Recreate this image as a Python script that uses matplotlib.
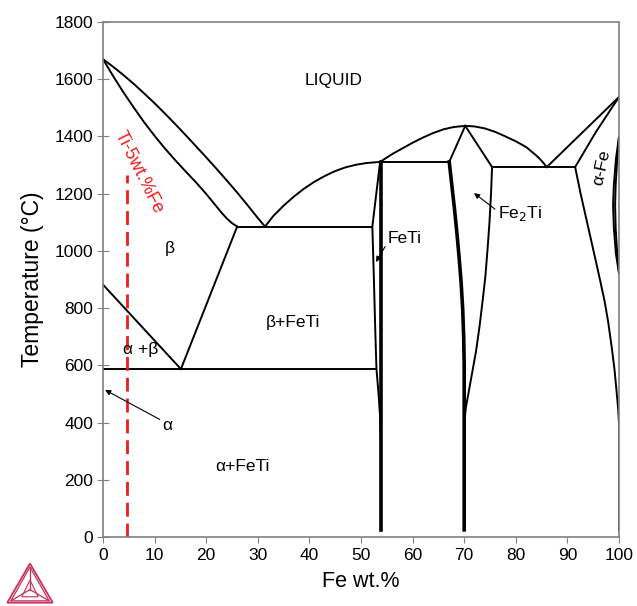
import matplotlib
matplotlib.use('Agg')
import matplotlib.pyplot as plt
from matplotlib.patches import Polygon

plt.rcParams['font.family'] = ['Liberation Sans', 'DejaVu Sans']

# phase boundaries, (Fe wt.%, T degC)
liq_left_x = [0, 2, 4, 6, 8, 10, 12, 14, 16, 18, 20, 22, 24, 26, 28, 30, 31.4]
liq_left_t = [1670, 1643, 1614, 1583, 1550, 1516, 1480, 1443, 1405, 1366, 1327, 1287, 1246, 1204, 1160, 1115, 1085]
sol_left_x = [0, 2, 4, 6, 8, 10, 12, 14, 16, 18, 20, 22, 23, 24, 25, 26]
sol_left_t = [1670, 1610, 1553, 1500, 1449, 1402, 1358, 1317, 1278, 1240, 1199, 1155, 1133, 1113, 1097, 1085]
liq_mid_x = [31.4, 33, 35, 37, 39, 41, 43, 45, 47, 49, 51, 53.7]
liq_mid_t = [1085, 1122, 1158, 1190, 1218, 1242, 1262, 1279, 1292, 1301, 1307, 1311]
liq_top_x = [53.7, 56, 58, 60, 62, 64, 66, 68, 70.2, 72, 74, 76, 78, 80, 82, 84, 85, 86.0]
liq_top_t = [1311, 1338, 1358, 1378, 1396, 1412, 1425, 1433, 1437, 1435, 1428, 1416, 1400, 1383, 1363, 1333, 1315, 1293]
liq_fe_x = [86.0, 100]
liq_fe_t = [1293, 1538]
sol_fe_x = [91.5, 95.5, 100]
sol_fe_t = [1293, 1415, 1538]
solvus_fe_x = [91.5, 92.5, 93.5, 94.5, 95.5, 96.4, 97.2, 97.9, 98.6, 99.15, 99.55, 99.85, 100, 100]
solvus_fe_t = [1293, 1205, 1125, 1045, 965, 892, 825, 752, 662, 582, 505, 445, 395, 25]
gamma_a_x = [100, 99.4, 99.0, 98.85, 99.0, 99.4, 100]
gamma_a_t = [1399, 1320, 1230, 1160, 1080, 990, 922]
gamma_b_x = [100, 99.65, 99.35, 99.25, 99.35, 99.65, 100]
gamma_b_t = [1399, 1320, 1230, 1160, 1080, 990, 922]
transus_x = [0, 15.1]
transus_t = [882, 587]
beta_feti_x = [15.1, 26]
beta_feti_t = [587, 1085]
eut_x = [26, 52.2]
eut_t = [1085, 1085]
eutectoid_x = [0, 53.0]
eutectoid_t = [587, 587]
feti_left_x = [53.7, 52.2, 52.5, 52.8, 53.0, 53.4, 53.7, 53.8]
feti_left_t = [1311, 1085, 900, 700, 587, 500, 420, 350]
feti_right_x = [53.8, 53.8]
feti_right_t = [1311, 25]
peri_x = [53.7, 67.1]
peri_t = [1311, 1311]
fe2ti_top_x = [70.2, 67.1]
fe2ti_top_t = [1437, 1311]
fe2ti_left_x = [67.1, 67.6, 68.1, 68.6, 69.0, 69.4, 69.7, 69.9, 70.0, 70.0]
fe2ti_left_t = [1311, 1230, 1150, 1060, 980, 890, 800, 700, 600, 25]
fe2ti_right_x = [70.2, 75.4, 75.2, 74.9, 74.5, 74.1, 73.6, 73.0, 72.3, 71.5, 70.8, 70.3, 70.05]
fe2ti_right_t = [1437, 1293, 1200, 1100, 1000, 910, 830, 740, 650, 570, 500, 450, 400]
eut2_x = [75.4, 91.5]
eut2_t = [1293, 1293]
alloy_x = [4.7, 4.7]
alloy_t = [0, 1265]

fig = plt.figure(figsize=(6.37, 6.06), dpi=100)
ax = fig.add_axes([103 / 637, 69 / 606, 516 / 637, 515 / 606])

thin = dict(color='black', lw=1.4, solid_joinstyle='round')
thick = dict(color='black', lw=2.6, solid_joinstyle='round')
for xs, ts in [(liq_left_x, liq_left_t), (sol_left_x, sol_left_t), (liq_mid_x, liq_mid_t),
               (liq_top_x, liq_top_t), (liq_fe_x, liq_fe_t), (sol_fe_x, sol_fe_t),
               (solvus_fe_x, solvus_fe_t), (transus_x, transus_t), (beta_feti_x, beta_feti_t),
               (eut_x, eut_t), (eutectoid_x, eutectoid_t), (feti_left_x, feti_left_t),
               (peri_x, peri_t), (fe2ti_top_x, fe2ti_top_t), (fe2ti_right_x, fe2ti_right_t),
               (eut2_x, eut2_t), (gamma_a_x, gamma_a_t), (gamma_b_x, gamma_b_t)]:
    ax.plot(xs, ts, **thin)
ax.plot(feti_right_x, feti_right_t, **thick)
ax.plot(fe2ti_left_x, fe2ti_left_t, **thick)
ax.plot(alloy_x, alloy_t, color='#ee1c1c', lw=2, dashes=(5, 2.5))

fs = 12.5
ax.text(44.6, 1597, 'LIQUID', fontsize=fs, ha='center', va='center')
ax.text(13, 1010, 'β', fontsize=fs, ha='center', va='center')
ax.text(36.8, 748, 'β+FeTi', fontsize=fs, ha='center', va='center')
ax.text(7.3, 654, 'α +β', fontsize=fs, ha='center', va='center')
ax.text(27.1, 248, 'α+FeTi', fontsize=fs, ha='center', va='center')
ax.text(96.7, 1290, 'α-Fe', fontsize=fs, ha='center', va='center', rotation=78,
        rotation_mode='anchor')
ax.text(7.0, 1276, 'Ti-5wt.%Fe', fontsize=13, color='#ee1c1c', ha='center', va='center',
        rotation=-63.5, rotation_mode='anchor')

arrow = dict(arrowstyle='-|>', color='black', lw=0.8, mutation_scale=8, shrinkA=0, shrinkB=0)
ax.annotate('α', xy=(0.4, 514), xytext=(12.5, 390), fontsize=fs, ha='center', va='center',
            arrowprops=dict(arrow, relpos=(0, 0.8)))
ax.annotate('FeTi', xy=(52.9, 961), xytext=(55.2, 1042), fontsize=fs, ha='left', va='center',
            arrowprops=dict(arrow, relpos=(0, 0.3)))
ax.annotate('Fe$_2$Ti', xy=(71.9, 1202), xytext=(76.5, 1132), fontsize=fs, ha='left', va='center',
            arrowprops=dict(arrow, relpos=(0, 0.6)))

ax.set_xlim(0, 100)
ax.set_ylim(0, 1800)
ax.set_xticks(range(0, 101, 10))
ax.set_yticks(range(0, 1801, 200))
ax.tick_params(axis='x', direction='out', length=4, color='#808080', labelsize=fs, pad=4)
ax.tick_params(axis='y', direction='inout', length=8, color='#808080', labelsize=fs, pad=3)
for s in ax.spines.values():
    s.set_color('#808080')
    s.set_linewidth(1.2)
ax.set_xlabel('Fe wt.%', fontsize=15.5, labelpad=6)
ax.set_ylabel('Temperature (°C)', fontsize=16.5, labelpad=8)

# logo
lax = fig.add_axes([5 / 637, 2 / 606, 50 / 637, 42 / 606])
lax.set_xlim(-0.05, 1.05)
lax.set_ylim(-0.03, 0.9)
lax.axis('off')
logo = '#c8315a'
cx, cy = 0.5, 0.29
outer = [(0, 0), (1, 0), (0.5, 0.866)]
inner = [(0.08, 0.04), (0.92, 0.04), (0.5, 0.79)]
lax.add_patch(Polygon(outer, closed=True, fill=False, ec=logo, lw=1.3))
lax.add_patch(Polygon(inner, closed=True, fill=False, ec=logo, lw=0.9))
for vx, vy in inner:
    lax.plot([cx, vx], [cy, vy], color=logo, lw=0.9)
lax.add_patch(Polygon([(0.32, 0.13), (0.68, 0.13), (0.5, 0.5)], closed=True, fill=False, ec=logo, lw=0.8))

fig.savefig('out.png', dpi=100)
